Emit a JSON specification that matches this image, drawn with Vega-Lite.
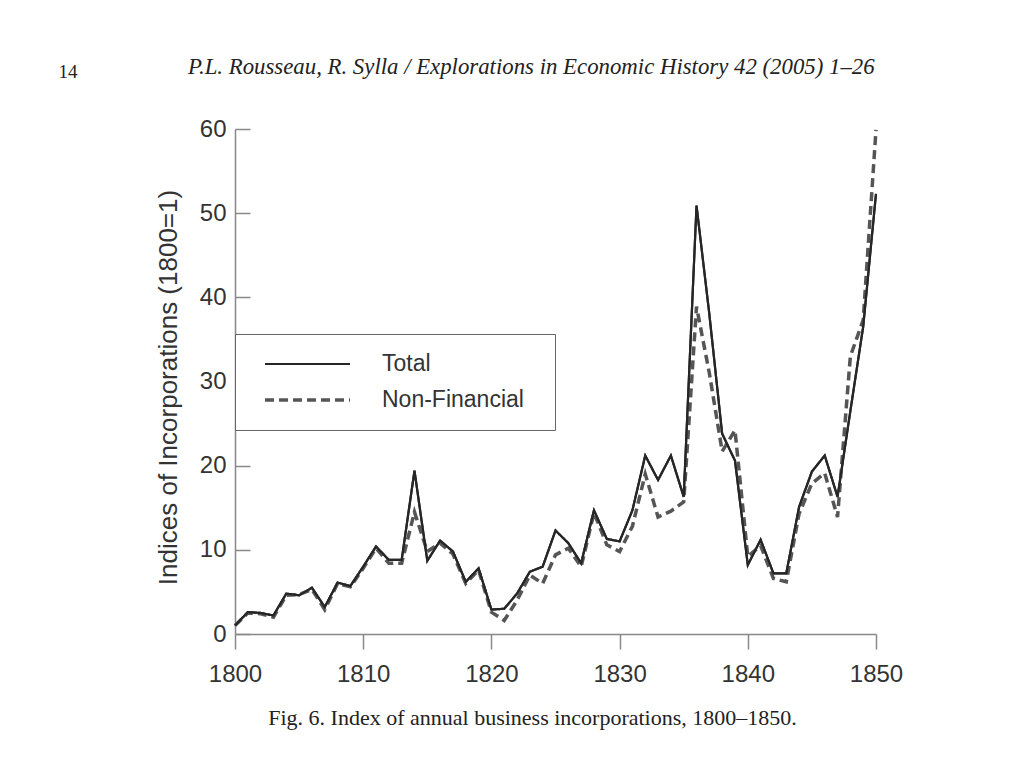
{
  "$schema": "https://vega.github.io/schema/vega-lite/v6.json",
  "width": 641,
  "height": 505,
  "autosize": "none",
  "padding": {"left": 235, "top": 129, "right": 148, "bottom": 134},
  "background": "white",
  "title": {
    "text": "P.L. Rousseau, R. Sylla / Explorations in Economic History 42 (2005) 1–26",
    "anchor": "start",
    "frame": "group",
    "dx": -47,
    "offset": -17,
    "font": "Liberation Serif",
    "fontSize": 22.8,
    "fontStyle": "italic",
    "fontWeight": "normal",
    "color": "#222"
  },
  "data": {
    "values": [
      {"year": 1800, "series": "Total", "value": 1.0},
      {"year": 1801, "series": "Total", "value": 2.6},
      {"year": 1802, "series": "Total", "value": 2.5},
      {"year": 1803, "series": "Total", "value": 2.2},
      {"year": 1804, "series": "Total", "value": 4.8},
      {"year": 1805, "series": "Total", "value": 4.6},
      {"year": 1806, "series": "Total", "value": 5.5},
      {"year": 1807, "series": "Total", "value": 3.2},
      {"year": 1808, "series": "Total", "value": 6.1},
      {"year": 1809, "series": "Total", "value": 5.7},
      {"year": 1810, "series": "Total", "value": 8.0},
      {"year": 1811, "series": "Total", "value": 10.4},
      {"year": 1812, "series": "Total", "value": 8.8},
      {"year": 1813, "series": "Total", "value": 8.8},
      {"year": 1814, "series": "Total", "value": 19.4},
      {"year": 1815, "series": "Total", "value": 8.7},
      {"year": 1816, "series": "Total", "value": 11.1},
      {"year": 1817, "series": "Total", "value": 9.8},
      {"year": 1818, "series": "Total", "value": 6.2},
      {"year": 1819, "series": "Total", "value": 7.8},
      {"year": 1820, "series": "Total", "value": 2.9},
      {"year": 1821, "series": "Total", "value": 3.0},
      {"year": 1822, "series": "Total", "value": 4.8},
      {"year": 1823, "series": "Total", "value": 7.4},
      {"year": 1824, "series": "Total", "value": 8.0},
      {"year": 1825, "series": "Total", "value": 12.3},
      {"year": 1826, "series": "Total", "value": 10.8},
      {"year": 1827, "series": "Total", "value": 8.4},
      {"year": 1828, "series": "Total", "value": 14.7},
      {"year": 1829, "series": "Total", "value": 11.3},
      {"year": 1830, "series": "Total", "value": 11.0},
      {"year": 1831, "series": "Total", "value": 14.7},
      {"year": 1832, "series": "Total", "value": 21.2},
      {"year": 1833, "series": "Total", "value": 18.3},
      {"year": 1834, "series": "Total", "value": 21.2},
      {"year": 1835, "series": "Total", "value": 16.3},
      {"year": 1836, "series": "Total", "value": 50.9},
      {"year": 1837, "series": "Total", "value": 38.0},
      {"year": 1838, "series": "Total", "value": 23.8},
      {"year": 1839, "series": "Total", "value": 20.6},
      {"year": 1840, "series": "Total", "value": 8.2},
      {"year": 1841, "series": "Total", "value": 11.2},
      {"year": 1842, "series": "Total", "value": 7.2},
      {"year": 1843, "series": "Total", "value": 7.2},
      {"year": 1844, "series": "Total", "value": 15.1},
      {"year": 1845, "series": "Total", "value": 19.3},
      {"year": 1846, "series": "Total", "value": 21.2},
      {"year": 1847, "series": "Total", "value": 16.3},
      {"year": 1848, "series": "Total", "value": 26.5},
      {"year": 1849, "series": "Total", "value": 36.5},
      {"year": 1850, "series": "Total", "value": 52.3},
      {"year": 1800, "series": "Non-Financial", "value": 1.0},
      {"year": 1801, "series": "Non-Financial", "value": 2.5},
      {"year": 1802, "series": "Non-Financial", "value": 2.4},
      {"year": 1803, "series": "Non-Financial", "value": 2.0},
      {"year": 1804, "series": "Non-Financial", "value": 4.6},
      {"year": 1805, "series": "Non-Financial", "value": 4.7},
      {"year": 1806, "series": "Non-Financial", "value": 5.3},
      {"year": 1807, "series": "Non-Financial", "value": 2.9},
      {"year": 1808, "series": "Non-Financial", "value": 6.0},
      {"year": 1809, "series": "Non-Financial", "value": 5.6},
      {"year": 1810, "series": "Non-Financial", "value": 7.8},
      {"year": 1811, "series": "Non-Financial", "value": 10.2},
      {"year": 1812, "series": "Non-Financial", "value": 8.4},
      {"year": 1813, "series": "Non-Financial", "value": 8.4},
      {"year": 1814, "series": "Non-Financial", "value": 14.5},
      {"year": 1815, "series": "Non-Financial", "value": 9.8},
      {"year": 1816, "series": "Non-Financial", "value": 10.8},
      {"year": 1817, "series": "Non-Financial", "value": 9.5},
      {"year": 1818, "series": "Non-Financial", "value": 6.0},
      {"year": 1819, "series": "Non-Financial", "value": 7.6},
      {"year": 1820, "series": "Non-Financial", "value": 2.6},
      {"year": 1821, "series": "Non-Financial", "value": 1.6},
      {"year": 1822, "series": "Non-Financial", "value": 4.0},
      {"year": 1823, "series": "Non-Financial", "value": 7.0},
      {"year": 1824, "series": "Non-Financial", "value": 6.0},
      {"year": 1825, "series": "Non-Financial", "value": 9.4},
      {"year": 1826, "series": "Non-Financial", "value": 10.2},
      {"year": 1827, "series": "Non-Financial", "value": 8.0},
      {"year": 1828, "series": "Non-Financial", "value": 14.4},
      {"year": 1829, "series": "Non-Financial", "value": 10.6},
      {"year": 1830, "series": "Non-Financial", "value": 9.8},
      {"year": 1831, "series": "Non-Financial", "value": 12.8},
      {"year": 1832, "series": "Non-Financial", "value": 19.0},
      {"year": 1833, "series": "Non-Financial", "value": 13.9},
      {"year": 1834, "series": "Non-Financial", "value": 14.6},
      {"year": 1835, "series": "Non-Financial", "value": 15.7},
      {"year": 1836, "series": "Non-Financial", "value": 38.9},
      {"year": 1837, "series": "Non-Financial", "value": 31.0},
      {"year": 1838, "series": "Non-Financial", "value": 21.7},
      {"year": 1839, "series": "Non-Financial", "value": 24.2},
      {"year": 1840, "series": "Non-Financial", "value": 9.2},
      {"year": 1841, "series": "Non-Financial", "value": 10.5},
      {"year": 1842, "series": "Non-Financial", "value": 6.6},
      {"year": 1843, "series": "Non-Financial", "value": 6.2},
      {"year": 1844, "series": "Non-Financial", "value": 14.3},
      {"year": 1845, "series": "Non-Financial", "value": 17.9},
      {"year": 1846, "series": "Non-Financial", "value": 19.1},
      {"year": 1847, "series": "Non-Financial", "value": 13.9},
      {"year": 1848, "series": "Non-Financial", "value": 33.0},
      {"year": 1849, "series": "Non-Financial", "value": 37.3},
      {"year": 1850, "series": "Non-Financial", "value": 59.9}
    ]
  },
  "encoding": {
    "y": {
      "field": "value",
      "type": "quantitative",
      "scale": {"domain": [0, 60], "nice": false},
      "axis": {
        "values": [0, 10, 20, 30, 40, 50, 60],
        "grid": false,
        "labelFlush": false,
        "tickSize": -15,
        "labelPadding": 24,
        "labelFontSize": 24,
        "labelFont": "Liberation Sans",
        "labelColor": "#333",
        "domainColor": "#888",
        "tickColor": "#888",
        "domainWidth": 1.5,
        "tickWidth": 1.5,
        "title": "Indices of Incorporations (1800=1)",
        "titleFont": "Liberation Sans",
        "titleFontSize": 26,
        "titleFontWeight": "normal",
        "titleColor": "#333",
        "titleX": -67,
        "titleY": 258,
        "titleAngle": 270,
        "titleAlign": "center",
        "titleBaseline": "middle"
      }
    }
  },
  "resolve": {"axis": {"x": "independent"}},
  "layer": [
    {
      "mark": {"type": "line", "strokeJoin": "miter", "strokeCap": "butt"},
      "encoding": {
        "x": {
          "field": "year",
          "type": "quantitative",
          "scale": {"domain": [1800, 1850], "nice": false, "zero": false},
          "axis": {
            "orient": "bottom",
            "values": [1800, 1810, 1820, 1830, 1840, 1850],
            "format": "d",
            "grid": false,
            "labelFlush": false,
            "tickSize": 15,
            "labelPadding": 13,
            "labelFontSize": 24,
            "labelFont": "Liberation Sans",
            "labelColor": "#333",
            "domainColor": "#888",
            "tickColor": "#888",
            "domainWidth": 1.5,
            "tickWidth": 1.5,
            "title": "Fig. 6. Index of annual business incorporations, 1800–1850.",
            "titleFont": "Liberation Serif",
            "titleFontSize": 22,
            "titleFontWeight": "normal",
            "titleColor": "#222",
            "titleX": 297,
            "titleY": 83,
            "titleAlign": "center",
            "titleBaseline": "middle",
            "titleAnchor": null
          }
        },
        "color": {
          "field": "series",
          "type": "nominal",
          "scale": {"domain": ["Total", "Non-Financial"], "range": ["#262626", "#555555"]},
          "legend": {
            "title": null,
            "orient": "none",
            "legendX": 0,
            "legendY": 205,
            "padding": 18,
            "symbolOffset": 10,
            "strokeColor": "#666",
            "fillColor": "white",
            "symbolType": "stroke",
            "symbolSize": 7225,
            "clipHeight": 24,
            "labelFont": "Liberation Sans",
            "labelFontSize": 23,
            "labelColor": "#333",
            "labelOffset": 30,
            "labelLimit": 400,
            "rowPadding": 12,
            "labelExpr": "datum.label + '\u00a0\u00a0\u200b'"
          }
        },
        "strokeDash": {
          "field": "series",
          "type": "nominal",
          "scale": {"domain": ["Total", "Non-Financial"], "range": [[1, 0], [9, 5]]},
          "legend": {
            "title": null,
            "orient": "none",
            "legendX": 0,
            "legendY": 205,
            "padding": 18,
            "symbolOffset": 10,
            "strokeColor": "#666",
            "fillColor": "white",
            "symbolType": "stroke",
            "symbolSize": 7225,
            "clipHeight": 24,
            "labelFont": "Liberation Sans",
            "labelFontSize": 23,
            "labelColor": "#333",
            "labelOffset": 30,
            "labelLimit": 400,
            "rowPadding": 12,
            "labelExpr": "datum.label + '\u00a0\u00a0\u200b'"
          }
        },
        "strokeWidth": {
          "field": "series",
          "type": "nominal",
          "scale": {"domain": ["Total", "Non-Financial"], "range": [2.2, 3.5]},
          "legend": {
            "title": null,
            "orient": "none",
            "legendX": 0,
            "legendY": 205,
            "padding": 18,
            "symbolOffset": 10,
            "strokeColor": "#666",
            "fillColor": "white",
            "symbolType": "stroke",
            "symbolSize": 7225,
            "clipHeight": 24,
            "labelFont": "Liberation Sans",
            "labelFontSize": 23,
            "labelColor": "#333",
            "labelOffset": 30,
            "labelLimit": 400,
            "rowPadding": 12,
            "labelExpr": "datum.label + '\u00a0\u00a0\u200b'"
          }
        }
      }
    },
    {
      "transform": [{"filter": "datum.series === 'Total'"}],
      "mark": {"type": "line", "strokeJoin": "miter", "strokeCap": "butt"},
      "encoding": {
        "x": {
          "field": "year",
          "type": "quantitative",
          "axis": {
            "orient": "top",
            "domain": false,
            "ticks": false,
            "labels": false,
            "grid": false,
            "title": "14",
            "titleFont": "Liberation Serif",
            "titleFontSize": 19,
            "titleFontWeight": "normal",
            "titleColor": "#222",
            "titleX": -177,
            "titleY": -52,
            "titleAlign": "left",
            "titleBaseline": "alphabetic",
            "titleAnchor": null
          }
        },
        "color": {"field": "series", "type": "nominal", "legend": null},
        "strokeDash": {"field": "series", "type": "nominal", "legend": null},
        "strokeWidth": {"field": "series", "type": "nominal", "legend": null}
      }
    }
  ],
  "config": {
    "view": {"stroke": null}
  }
}
